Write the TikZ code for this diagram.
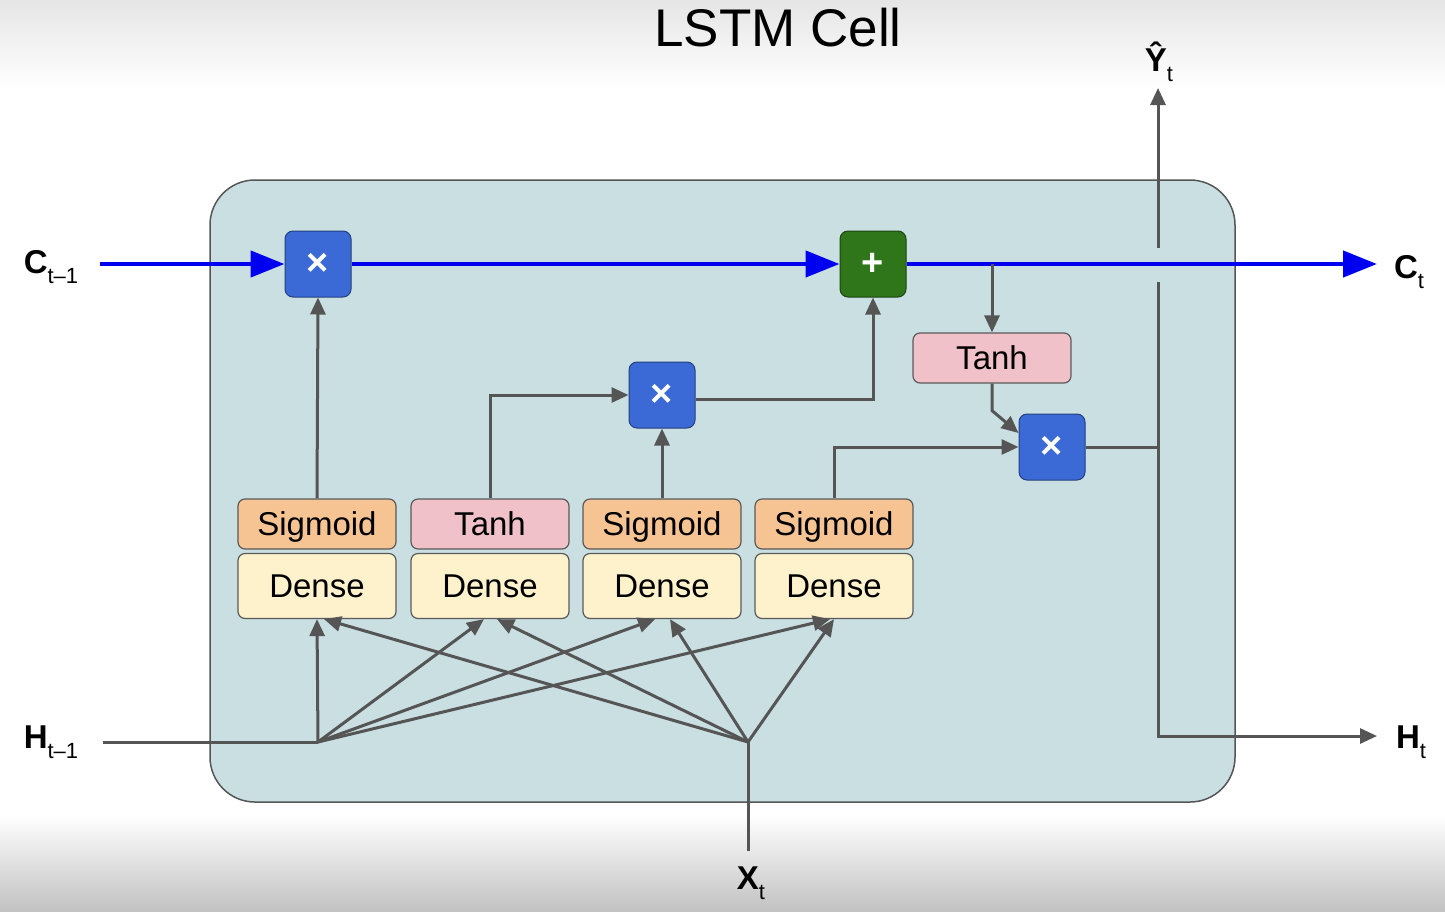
\documentclass[tikz,border=0pt]{standalone}
\usepackage{fontspec}
\setmainfont{Liberation Sans}
\usetikzlibrary{positioning, arrows.meta, calc}

\definecolor{cellbg}{RGB}{202,223,226}
\definecolor{cellborder}{RGB}{85,85,85}
\definecolor{opblue}{RGB}{59,105,214}
\definecolor{opgreen}{RGB}{47,117,25}
\definecolor{sigfill}{RGB}{246,195,147}
\definecolor{tanhfill}{RGB}{240,193,200}
\definecolor{densefill}{RGB}{253,242,203}
\definecolor{gatedraw}{RGB}{90,90,90}
\definecolor{linegrey}{RGB}{85,85,85}
\definecolor{cblue}{RGB}{0,0,240}

\newcommand{\iolbl}[2]{{\fontsize{33}{33}\selectfont\bfseries #1}\raisebox{-10pt}{\fontsize{22}{22}\selectfont #2}}

\begin{document}
\begin{tikzpicture}[x=1pt, y=-1pt,
    gate_box/.style = {draw=gatedraw, line width=1.2pt, rounded corners=7pt, minimum width=158pt, inner sep=0pt, text height=26pt, text depth=4pt, font=\fontsize{33}{33}\selectfont},
    sig_box/.style = {gate_box, fill=sigfill, minimum height=50pt},
    tanh_box/.style = {gate_box, fill=tanhfill, minimum height=50pt},
    dense_box/.style = {gate_box, fill=densefill, minimum height=65pt},
    op_box/.style = {line width=1pt, rounded corners=8pt, minimum size=66pt, inner sep=0pt, text=white, font=\fontsize{38}{38}\selectfont\bfseries},
    mult_op/.style = {op_box, fill=opblue, draw=opblue!60!black},
    add_op/.style = {op_box, fill=opgreen, draw=opgreen!60!black},
    line_g/.style = {draw=linegrey, line width=3pt},
    arrow_g/.style = {line_g, -{Triangle[length=17pt, width=15pt]}},
    arrow_c/.style = {draw=cblue, line width=4.5pt, -{Triangle[length=34pt, width=26pt]}},
    io_lbl/.style = {inner sep=0pt}
]
\useasboundingbox (0,0) rectangle (1445,911);

% --- background ---
\fill[white] (0,0) rectangle (1445,911);
\shade[top color=black!10, bottom color=white] (0,0) rectangle (1445,90);
\shade[top color=white, bottom color=black!24] (0,815) rectangle (1445,911);
\draw[draw=cellborder, fill=cellbg, line width=1.5pt, rounded corners=45pt] (210,180) rectangle (1235,802);

\node[font=\fontsize{53}{53}\selectfont] (title) at (778,28) {LSTM Cell};

% --- gates ---
\node[sig_box] (s1) at (317,524) {Sigmoid};
\node[tanh_box] (t2) at (490,524) {Tanh};
\node[sig_box] (s3) at (662,524) {Sigmoid};
\node[sig_box] (s4) at (834,524) {Sigmoid};
\foreach \g/\x in {1/317, 2/490, 3/662, 4/834}
    \node[dense_box] (d\g) at (\x,586) {Dense};

% --- operators ---
\node[mult_op] (m1) at (318,264) {×};
\node[add_op] (add) at (873,264) {+};
\node[mult_op] (m2) at (662,395) {×};
\node[tanh_box] (tanh_o) at (992,358) {Tanh};
\node[mult_op] (m3) at (1052,447) {×};

% --- inputs / outputs ---
\node[io_lbl] (c_in) at (51,267) {\iolbl{C}{t–1}};
\node[io_lbl] (c_out) at (1409,272) {\iolbl{C}{t}};
\node[io_lbl] (h_in) at (51,742) {\iolbl{H}{t–1}};
\node[io_lbl] (h_out) at (1411,742) {\iolbl{H}{t}};
\node[io_lbl] (x_in) at (751,883) {\iolbl{X}{t}};
\node[io_lbl, anchor=base] (y_out) at (1159,71) {\iolbl{Ŷ}{t}};

\coordinate (c_start) at (100,264);
\coordinate (c_end) at (1377,264);
\coordinate (h_start) at (103,742);
\coordinate (h_junc) at (318,742);
\coordinate (x_start) at (748,851);
\coordinate (x_junc) at (748,742);
\coordinate (y_junc) at (1158,447);
\coordinate (gap_lo) at (1158,282);
\coordinate (gap_hi) at (1158,248);
\coordinate (y_end) at (1158,88);
\coordinate (h_end) at (1377,736);

% --- cell state ---
\draw[arrow_c] (c_start) -- (m1.west);
\draw[arrow_c] (m1.east) -- (add.west);
\draw[arrow_c] (add.east) -- (c_end);

% --- gate paths ---
\draw[arrow_g] (s1.north) -- (m1.south);
\draw[arrow_g] (t2.north) |- (m2.west);
\draw[arrow_g] (s3.north) -- (m2.south);
\draw[arrow_g] ([yshift=-4pt]m2.east) -| (add.south);
\draw[arrow_g] (tanh_o.north |- add.east) -- (tanh_o.north);
\draw[arrow_g] (tanh_o.south) -- ++(0,27) -- ([yshift=14pt]m3.west);
\draw[arrow_g] (s4.north) |- (m3.west);

% --- outputs ---
\draw[line_g] (m3.east) -- (y_junc) -- (gap_lo);
\draw[arrow_g] (gap_hi) -- (y_end);
\draw[arrow_g] (y_junc) |- (h_end);

% --- inputs to dense layers ---
\draw[line_g] (h_start) -- (h_junc);
\draw[line_g] (x_start) -- (x_junc);
\draw[arrow_g] (h_junc) -- (d1.south);
\draw[arrow_g] (h_junc) -- ([xshift=-6pt]d2.south);
\draw[arrow_g] (h_junc) -- ([xshift=-7pt]d3.south);
\draw[arrow_g] (h_junc) -- ([xshift=-4pt]d4.south);
\draw[arrow_g] (x_junc) -- ([xshift=7pt]d1.south);
\draw[arrow_g] (x_junc) -- ([xshift=7pt]d2.south);
\draw[arrow_g] (x_junc) -- ([xshift=8pt]d3.south);
\draw[arrow_g] (x_junc) -- ([xshift=0pt]d4.south);

\end{tikzpicture}
\end{document}
